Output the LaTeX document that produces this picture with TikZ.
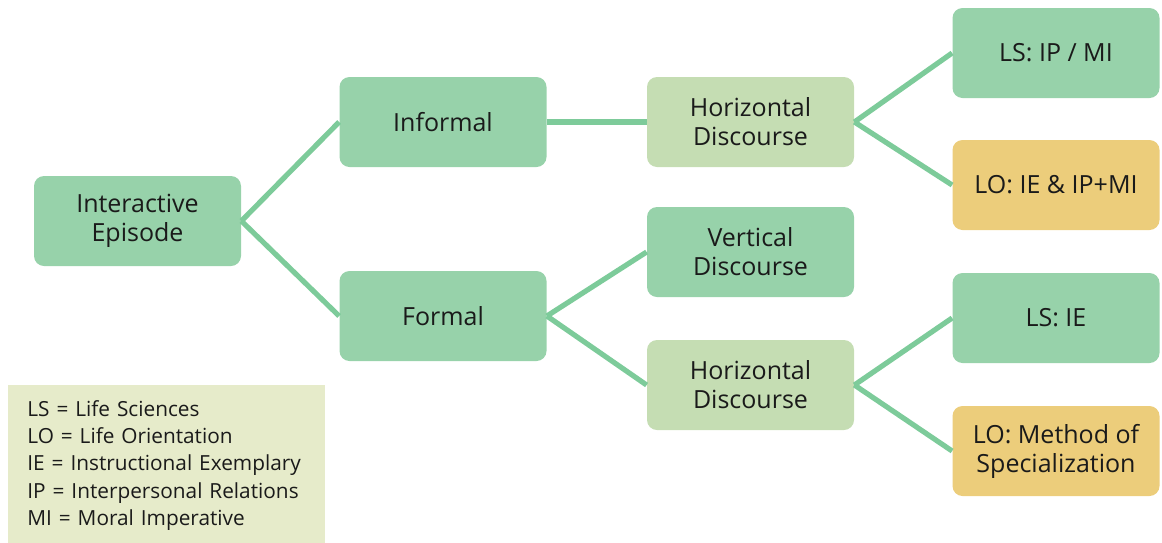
\documentclass[tikz,border=0pt]{standalone}
\usepackage{fontspec}
\setmainfont{Open Sans}
\usepackage{tikz}
\usetikzlibrary{positioning}
\definecolor{epGreen}{HTML}{97D2AA}
\definecolor{epPale}{HTML}{C5DDB3}
\definecolor{epGold}{HTML}{ECCD7B}
\definecolor{epLine}{HTML}{7DCB9A}
\definecolor{epKey}{HTML}{E6EBCA}
\definecolor{epText}{HTML}{1A1A1A}
\tikzset{
  epnode/.style={
    rounded corners=5pt, minimum width=103.5pt, minimum height=45pt,
    align=center, text=epText, inner sep=2pt,
    font=\fontsize{12.5}{14.5}\selectfont
  },
  epbox/.style={epnode, fill=epGreen},
  discbox/.style={epnode, fill=epPale},
  lobox/.style={epnode, fill=epGold},
  branch/.style={line width=2.6pt, epLine},
  keybox/.style={
    fill=epKey, anchor=north west, minimum width=158.5pt, minimum height=80pt,
    inner xsep=9.5pt, text width=139.5pt, align=left, text=epText,
    font=\fontsize{10.4}{13.7}\selectfont
  }
}
\begin{document}
\begin{tikzpicture}[x=0.5pt, y=-0.5pt]
  \useasboundingbox (0,0) rectangle (1162,542);
  % tree
  \node[epbox] (ep) at (137.5,221) {Interactive\\Episode};
  \node[epbox] (inf) at (443,122) {Informal};
  \node[epbox] (frm) at (443,316) {Formal};
  \node[discbox] (hdA) at (750.5,122) {Horizontal\\Discourse};
  \node[epbox] (vd) at (750.5,252) {Vertical\\Discourse};
  \node[discbox] (hdB) at (750.5,385) {Horizontal\\Discourse};
  \node[epbox] (lsA) at (1056,53) {LS: IP / MI};
  \node[lobox] (loA) at (1056,185) {LO: IE \& IP+MI};
  \node[epbox] (lsB) at (1056,318) {LS: IE};
  \node[lobox] (loB) at (1056,451) {LO: Method of\\Specialization};
  % connectors
  \draw[branch] (ep.east) -- (inf.west);
  \draw[branch] (ep.east) -- (frm.west);
  \draw[branch] (inf.east) -- (hdA.west);
  \draw[branch] (frm.east) -- (vd.west);
  \draw[branch] (frm.east) -- (hdB.west);
  \draw[branch] (hdA.east) -- (lsA.west);
  \draw[branch] (hdA.east) -- (loA.west);
  \draw[branch] (hdB.east) -- (lsB.west);
  \draw[branch] (hdB.east) -- (loB.west);
  % key
  \node[keybox] (key) at (8,385) {LS = Life Sciences\\LO = Life Orientation\\IE = Instructional Exemplary\\IP = Interpersonal Relations\\MI = Moral Imperative};
\end{tikzpicture}
\end{document}
